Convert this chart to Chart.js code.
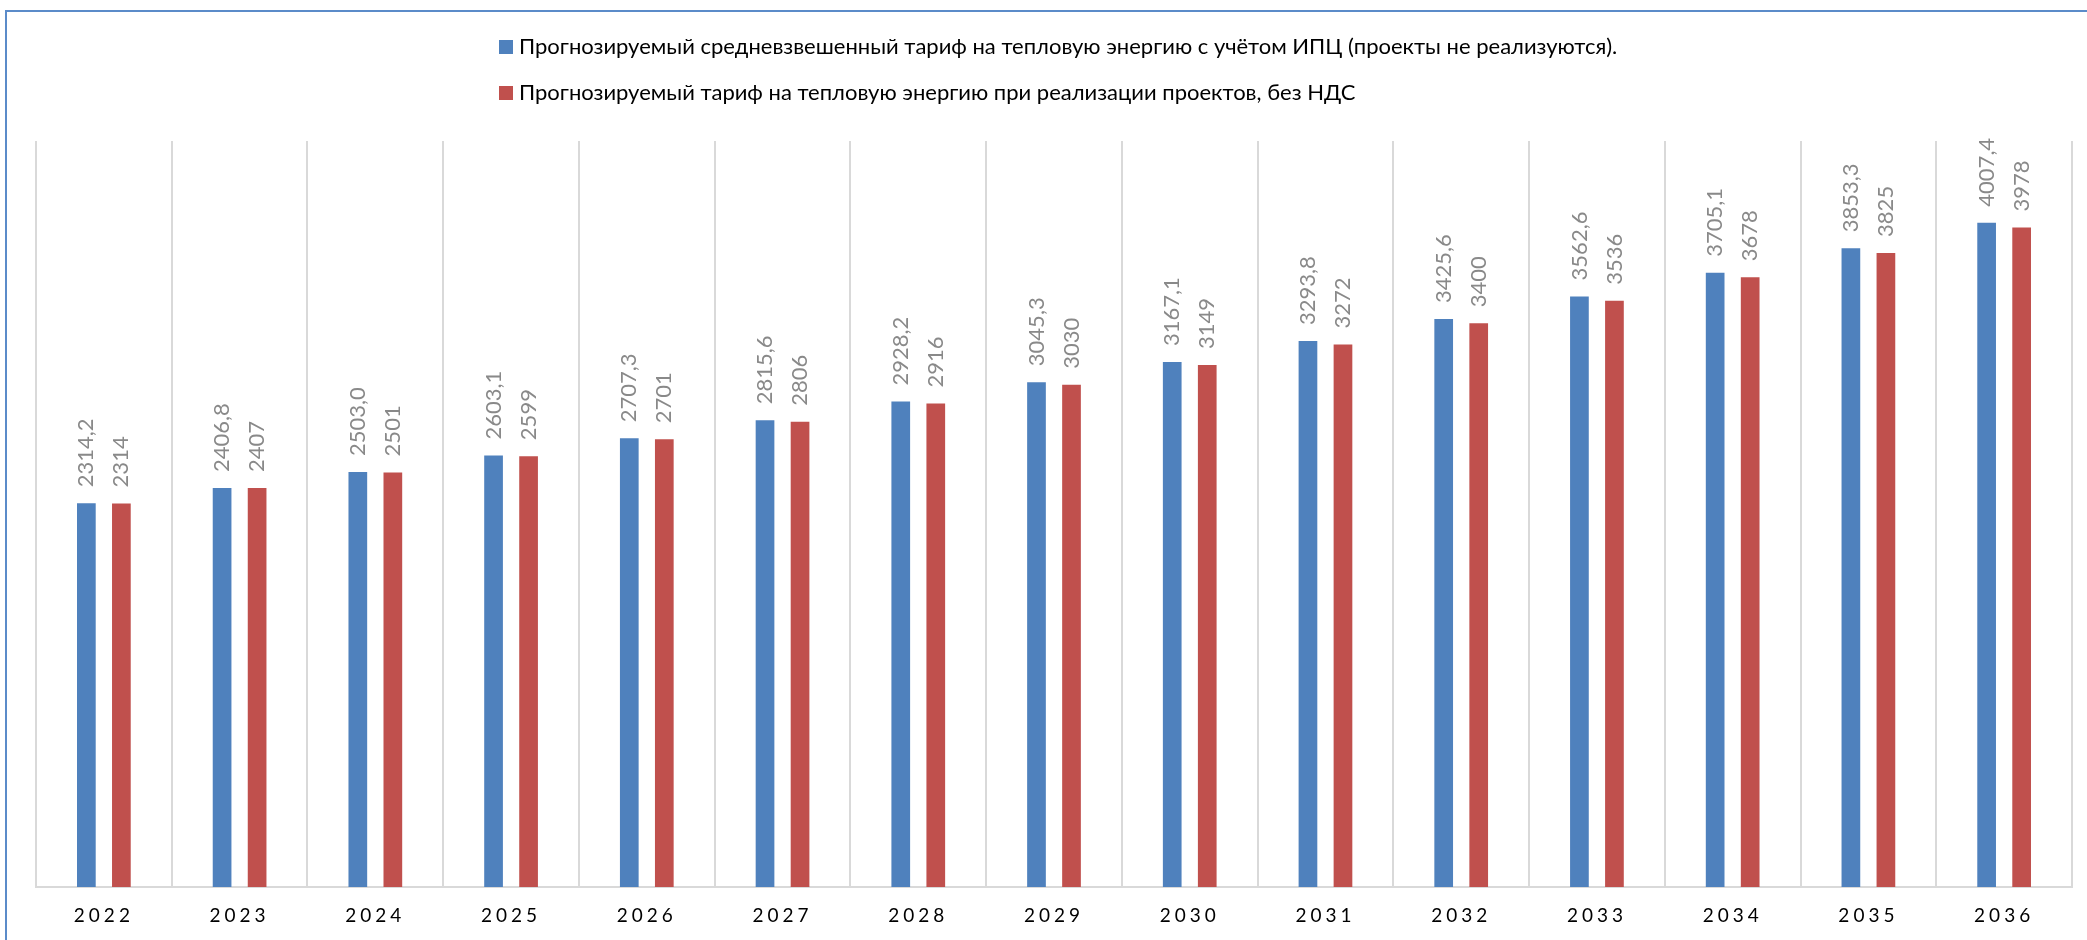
<!DOCTYPE html>
<html>
<head>
<meta charset="utf-8">
<script src="https://cdn.jsdelivr.net/npm/chart.js@4"></script>
<style>
    body { margin: 0; background: #fff; }
    #wrap { position: absolute; left: 0; top: 0; width: 2087px; height: 940px; }
</style>
</head>
<body>
<div id="wrap"><canvas id="tariffs"></canvas></div>
<script>
const years = ['2022', '2023', '2024', '2025', '2026', '2027', '2028', '2029', '2030', '2031', '2032', '2033', '2034', '2035', '2036'];
const tariffIpc = [2314.2, 2406.8, 2503.0, 2603.1, 2707.3, 2815.6, 2928.2, 3045.3, 3167.1, 3293.8, 3425.6, 3562.6, 3705.1, 3853.3, 4007.4];
const tariffProjects = [2314, 2407, 2501, 2599, 2701, 2806, 2916, 3030, 3149, 3272, 3400, 3536, 3678, 3825, 3978];
const seriesNames = [
    'Прогнозируемый средневзвешенный тариф на тепловую энергию с учётом ИПЦ (проекты не реализуются).',
    'Прогнозируемый тариф на тепловую энергию при реализации проектов, без НДС'
];

const BLUE = '#4f81bd';
const RED = '#c0504d';

// outer frame + spaced-out year labels
const framePlugin = {
    id: 'frame',
    beforeDraw(chart) {
        const ctx = chart.ctx;
        ctx.save();
        ctx.fillStyle = '#fff';
        ctx.fillRect(0, 0, chart.width, chart.height);
        ctx.strokeStyle = '#5b8bc9';
        ctx.lineWidth = 2;
        ctx.beginPath();
        ctx.moveTo(6, chart.height);
        ctx.lineTo(6, 11);
        ctx.lineTo(chart.width, 11);
        ctx.stroke();
        ctx.restore();
        ctx.letterSpacing = '4px';
    },
    beforeDatasetsDraw(chart) {
        chart.ctx.letterSpacing = '0px';
    }
};

// rotated value labels above bars
const valueLabels = {
    id: 'valueLabels',
    afterDatasetsDraw(chart) {
        const ctx = chart.ctx;
        chart.data.datasets.forEach((ds, i) => {
            const meta = chart.getDatasetMeta(i);
            meta.data.forEach((bar, j) => {
                const v = ds.data[j];
                const txt = i === 0 ? v.toFixed(1).replace('.', ',') : String(Math.round(v));
                ctx.save();
                ctx.translate(bar.x, bar.y - 16);
                ctx.rotate(-Math.PI / 2);
                ctx.font = '22px Lato';
                ctx.fillStyle = '#898989';
                ctx.textAlign = 'left';
                ctx.textBaseline = 'middle';
                ctx.fillText(txt, 0, 0);
                ctx.restore();
            });
        });
    }
};

// legend, one entry per line, left aligned
const legendBlock = {
    id: 'legendBlock',
    afterDraw(chart) {
        const ctx = chart.ctx;
        const rowsY = [47, 93];
        ctx.save();
        ctx.letterSpacing = '0px';
        chart.data.datasets.forEach((ds, i) => {
            ctx.fillStyle = ds.backgroundColor;
            ctx.fillRect(499, rowsY[i] - 7, 14, 14);
            ctx.fillStyle = '#000';
            ctx.font = '22px Lato';
            ctx.textAlign = 'left';
            ctx.textBaseline = 'middle';
            ctx.fillText(ds.label, 519, rowsY[i]);
        });
        ctx.restore();
    }
};

new Chart(document.getElementById('tariffs').getContext('2d'), {
    type: 'bar',
    data: {
        labels: years,
        datasets: [{
            label: seriesNames[0],
            backgroundColor: BLUE,
            data: tariffIpc,
            categoryPercentage: 0.516,
            barPercentage: 0.534
        }, {
            label: seriesNames[1],
            backgroundColor: RED,
            data: tariffProjects,
            categoryPercentage: 0.516,
            barPercentage: 0.534
        }]
    },
    options: {
        responsive: true,
        maintainAspectRatio: false,
        animation: false,
        layout: {
            padding: { left: 36, right: 15, top: 141, bottom: 0 }
        },
        plugins: {
            legend: { display: false },
            tooltip: { enabled: false }
        },
        scales: {
            x: {
                grid: {
                    color: '#d9d9d9',
                    lineWidth: 2,
                    drawTicks: false
                },
                border: { color: '#d9d9d9', width: 2 },
                ticks: {
                    color: '#000',
                    font: { family: 'Lato', size: 19 },
                    padding: 17,
                    maxRotation: 0
                },
                afterFit(scale) {
                    scale.height = 53;
                }
            },
            y: {
                display: false,
                min: 0,
                max: 4500
            }
        }
    },
    plugins: [framePlugin, valueLabels, legendBlock]
});
</script>
</body>
</html>
